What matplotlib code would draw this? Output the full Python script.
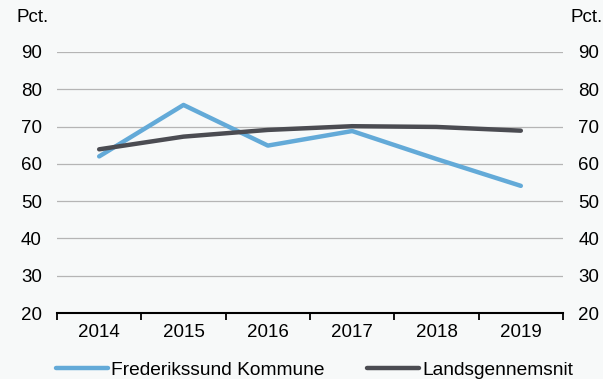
import matplotlib.pyplot as plt
from matplotlib.ticker import FixedLocator

plt.rcParams['font.family'] = ['Liberation Sans', 'DejaVu Sans']

years = ['2014', '2015', '2016', '2017', '2018', '2019']
frederikssund = [62.0, 75.8, 64.9, 68.8, 61.3, 54.1]
landsgennemsnit = [63.9, 67.3, 69.1, 70.1, 69.9, 68.9]
yticks = [20, 30, 40, 50, 60, 70, 80, 90]

bg = '#f7f9f9'
blue = '#63aad8'
dark = '#4b4c52'
fs = 13.5

fig = plt.figure(figsize=(6.03, 3.79), dpi=100, facecolor=bg)
ax = fig.add_axes([57 / 603, 1 - 313 / 379, 506 / 603, 261 / 379])
ax.set_facecolor(bg)

x = list(range(len(years)))
ax.plot(x, frederikssund, color=blue, lw=3.2, solid_capstyle='round',
        label='Frederikssund Kommune', zorder=3)
ax.plot(x, landsgennemsnit, color=dark, lw=3.2, solid_capstyle='round',
        label='Landsgennemsnit', zorder=3)

ax.set_xlim(-0.5, len(years) - 0.5)
ax.set_ylim(20, 90)
ax.set_yticks(yticks)
for v in yticks[1:]:
    ax.axhline(v, color='#b5b5b5', lw=0.9, zorder=1)

# kategori-labels i midten, tick-streger mellem årene
ax.set_xticks(x)
ax.set_xticklabels(years, fontsize=fs)
ax.xaxis.set_minor_locator(FixedLocator([i - 0.5 for i in range(len(years) + 1)]))
ax.tick_params(axis='x', which='major', length=0, pad=8)
ax.tick_params(axis='x', which='minor', length=5, width=1.3, color='black')
ax.tick_params(axis='y', length=0, labelsize=fs, pad=11)

for s in ['top', 'left', 'right']:
    ax.spines[s].set_visible(False)
ax.spines['bottom'].set_linewidth(1.5)
ax.spines['bottom'].set_zorder(4)

ax2 = ax.twinx()
ax2.set_ylim(20, 90)
ax2.set_yticks(yticks)
ax2.tick_params(axis='y', length=0, labelsize=fs, pad=11)
for s in ['top', 'left', 'right', 'bottom']:
    ax2.spines[s].set_visible(False)

fig.text(16 / 603, 1 - 18 / 379, 'Pct.', fontsize=fs, va='center', ha='left')
fig.text(1.0, 1 - 18 / 379, 'Pct.', fontsize=fs, va='center', ha='right')

fig.legend(loc='center', bbox_to_anchor=(0.522, 1 - 370 / 379), ncol=2,
           frameon=False, fontsize=13.8, handlelength=2.7, handletextpad=0.2,
           columnspacing=2.2)

fig.savefig('out.png', dpi=100, facecolor=bg)
